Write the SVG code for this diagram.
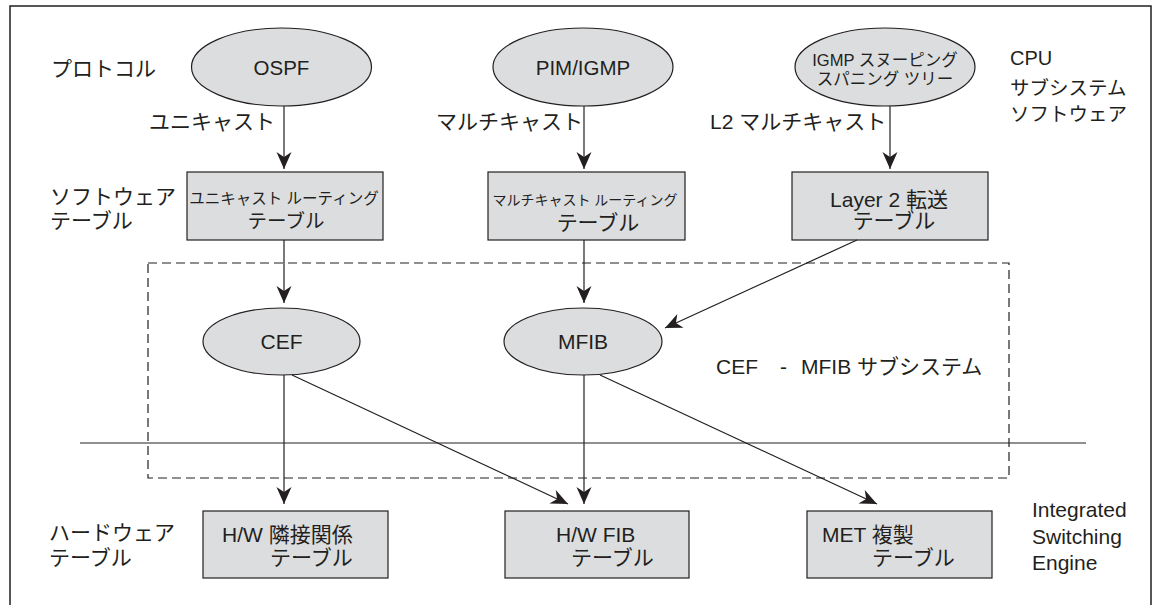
<svg xmlns="http://www.w3.org/2000/svg" width="1155" height="605" viewBox="0 0 1155 605">
<style>
.n{fill:#dcdddf;stroke:#231f20;stroke-width:1.2}
.t{font-family:"Liberation Sans","Noto Sans CJK JP",sans-serif;fill:#231f20;font-size:21px}
.c{text-anchor:middle}
.e{stroke:#231f20;stroke-width:1.2;fill:none}
</style>
<defs>
<marker id="ah" markerUnits="userSpaceOnUse" markerWidth="20" markerHeight="16" viewBox="-18 -8 19 16" refX="0" refY="0" orient="auto">
<path d="M0,0 L-17,-7.5 L-12,0 L-17,7.5 Z" fill="#231f20"/>
</marker>
</defs>
<rect width="1155" height="605" fill="#fff"/>
<path d="M10,605 V6 H1151 V605" fill="none" stroke="#231f20" stroke-width="1.5"/>
<g id="labels">
<text class="t" x="51" y="76">プロトコル</text>
<text class="t" x="149" y="129">ユニキャスト</text>
<text class="t" x="436" y="129">マルチキャスト</text>
<text class="t" x="710" y="129">L2 マルチキャスト</text>
<text class="t" x="50" y="204">ソフトウェア</text>
<text class="t" x="50" y="228">テーブル</text>
<text class="t" x="1010" y="65" style="font-size:20px">CPU</text>
<text class="t" x="1010" y="95" style="font-size:19.5px">サブシステム</text>
<text class="t" x="1010" y="121" style="font-size:19.5px">ソフトウェア</text>
<text class="t" x="716" y="374">CEF</text>
<text class="t" x="780" y="374">-</text>
<text class="t" x="801" y="374">MFIB サブシステム</text>
<text class="t" x="49" y="540">ハードウェア</text>
<text class="t" x="49" y="565">テーブル</text>
<text class="t" x="1032" y="517">Integrated</text>
<text class="t" x="1032" y="544">Switching</text>
<text class="t" x="1032" y="570">Engine</text>
</g>
<g id="subsystem">
<rect x="148" y="263" width="861" height="215" fill="none" stroke="#231f20" stroke-width="1.2" stroke-dasharray="9,5"/>
<line x1="80" y1="443" x2="1086" y2="443" stroke="#231f20" stroke-width="1"/>
</g>
<g id="ospf"><ellipse class="n" cx="281.5" cy="67" rx="90" ry="39"/><text class="t c" x="281.5" y="74.5" style="font-size:20.5px">OSPF</text></g>
<g id="pim"><ellipse class="n" cx="583" cy="67" rx="90" ry="39"/><text class="t c" x="583" y="74.5" style="font-size:20.5px">PIM/IGMP</text></g>
<g id="igmp"><ellipse class="n" cx="885" cy="67" rx="90" ry="39"/><text class="t c" x="885" y="66" style="font-size:16.5px">IGMP スヌーピング</text><text class="t c" x="885" y="85" style="font-size:16.5px">スパニング ツリー</text></g>
<g id="urt"><rect class="n" x="187" y="172" width="196" height="68"/><text class="t c" x="284" y="204" style="font-size:15.5px">ユニキャスト ルーティング</text><text class="t c" x="286" y="227.5" style="font-size:19.5px">テーブル</text></g>
<g id="mrt"><rect class="n" x="488" y="172" width="197" height="68"/><text class="t c" x="585" y="205" style="font-size:14px">マルチキャスト ルーティング</text><text class="t c" x="598" y="229.5" style="font-size:21px">テーブル</text></g>
<g id="l2"><rect class="n" x="792" y="172" width="196" height="68"/><text class="t c" x="889" y="207">Layer 2 転送</text><text class="t c" x="894" y="228">テーブル</text></g>
<g id="cef"><ellipse class="n" cx="281.5" cy="341.5" rx="78.5" ry="33.5"/><text class="t c" x="281.5" y="348.5">CEF</text></g>
<g id="mfib"><ellipse class="n" cx="583" cy="341.5" rx="79" ry="33.5"/><text class="t c" x="583" y="348.5">MFIB</text></g>
<g id="hwadj"><rect class="n" x="203" y="511" width="185" height="67"/><text class="t" x="222" y="542">H/W 隣接関係</text><text class="t" x="270" y="565">テーブル</text></g>
<g id="hwfib"><rect class="n" x="505" y="511" width="184" height="67"/><text class="t" x="556" y="542">H/W FIB</text><text class="t" x="571" y="565">テーブル</text></g>
<g id="met"><rect class="n" x="807" y="511" width="185" height="67"/><text class="t" x="822" y="542">MET 複製</text><text class="t" x="872" y="565">テーブル</text></g>
<g id="connectors">
<line class="e" x1="284" y1="106" x2="284" y2="169" marker-end="url(#ah)"/>
<line class="e" x1="584" y1="106" x2="584" y2="169" marker-end="url(#ah)"/>
<line class="e" x1="890" y1="106" x2="890" y2="169" marker-end="url(#ah)"/>
<line class="e" x1="284" y1="240" x2="284" y2="303" marker-end="url(#ah)"/>
<line class="e" x1="584" y1="240" x2="584" y2="303" marker-end="url(#ah)"/>
<line class="e" x1="857" y1="240" x2="665" y2="328" marker-end="url(#ah)"/>
<line class="e" x1="284" y1="375" x2="284" y2="504" marker-end="url(#ah)"/>
<line class="e" x1="292" y1="375" x2="568" y2="504" marker-end="url(#ah)"/>
<line class="e" x1="584" y1="375" x2="584" y2="504" marker-end="url(#ah)"/>
<line class="e" x1="600" y1="375" x2="877" y2="504" marker-end="url(#ah)"/>
</g>
</svg>
